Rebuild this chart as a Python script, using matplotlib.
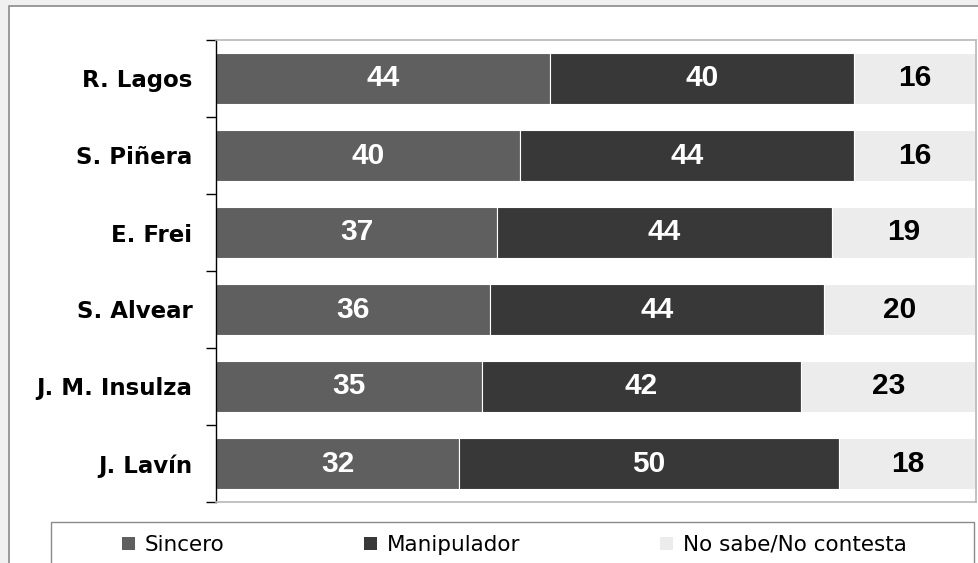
import numpy as np
import matplotlib.pyplot as plt
from matplotlib.patches import Rectangle, Patch

# data
names = ['R. Lagos', 'S. Piñera', 'E. Frei', 'S. Alvear', 'J. M. Insulza', 'J. Lavín']
sincero = [44, 40, 37, 36, 35, 32]
manipulador = [40, 44, 44, 44, 42, 50]
no_sabe = [16, 16, 19, 20, 23, 18]
series_names = ['Sincero', 'Manipulador', 'No sabe/No contesta']
colors = ['#5f5f5f', '#383838', '#ececec']
text_colors = ['white', 'white', 'black']

W, H = 979, 563
fig = plt.figure(figsize=(W / 100, H / 100), dpi=100)
fig.patch.set_facecolor('#f0f0f0')

# white chart area with grey frame
fig.patches.append(Rectangle((9 / W, -0.05), 1.1, 1 - 6 / H + 0.05, transform=fig.transFigure,
                             facecolor='white', edgecolor='#8a8a8a', lw=1.2, zorder=-10))

ax = fig.add_axes([216 / W, 1 - 502 / H, (976 - 216) / W, (502 - 40) / H])

y = np.arange(len(names))
left = np.zeros(len(names))
for vals, col, tcol in zip([sincero, manipulador, no_sabe], colors, text_colors):
    vals = np.array(vals)
    ax.barh(y, vals, left=left, height=0.65, color=col, edgecolor='white', linewidth=0.8)
    for yi, l, v in zip(y, left, vals):
        ax.text(l + v / 2, yi, str(v), ha='center', va='center', color=tcol,
                fontsize=21.5, fontweight='bold', family='Liberation Sans')
    left = left + vals

ax.set_xlim(0, 100)
ax.set_ylim(len(names) - 0.5, -0.5)
ax.set_xticks([])
ax.set_yticks(np.arange(len(names) + 1) - 0.5)
ax.set_yticklabels([])
ax.set_yticks(y, minor=True)
ax.set_yticklabels(names, minor=True, fontsize=16.5, fontweight='bold', family='DejaVu Sans')
ax.tick_params(axis='y', which='major', length=7, width=1, direction='out', color='black')
ax.tick_params(axis='y', which='minor', length=0, pad=17)

for s in ['top', 'right', 'bottom']:
    ax.spines[s].set_color('#b8b8b8')
    ax.spines[s].set_linewidth(1.2)
ax.spines['left'].set_color('black')
ax.spines['left'].set_linewidth(1)

# legend box
fig.patches.append(Rectangle((51 / W, -0.05), (974 - 51) / W, 1 - 522 / H + 0.05,
                             transform=fig.transFigure, facecolor='white',
                             edgecolor='#8a8a8a', lw=1))
handles = [Patch(facecolor=c, edgecolor='none') for c in colors]
fig.legend(handles, series_names, loc='center', bbox_to_anchor=(514 / W, 1 - 545 / H),
           ncol=3, frameon=False, handlelength=0.6, handleheight=0.6,
           handletextpad=0.45, columnspacing=6.5, prop={'family': 'DejaVu Sans', 'size': 15.5})

plt.savefig('out.png', dpi=100, facecolor=fig.get_facecolor())
